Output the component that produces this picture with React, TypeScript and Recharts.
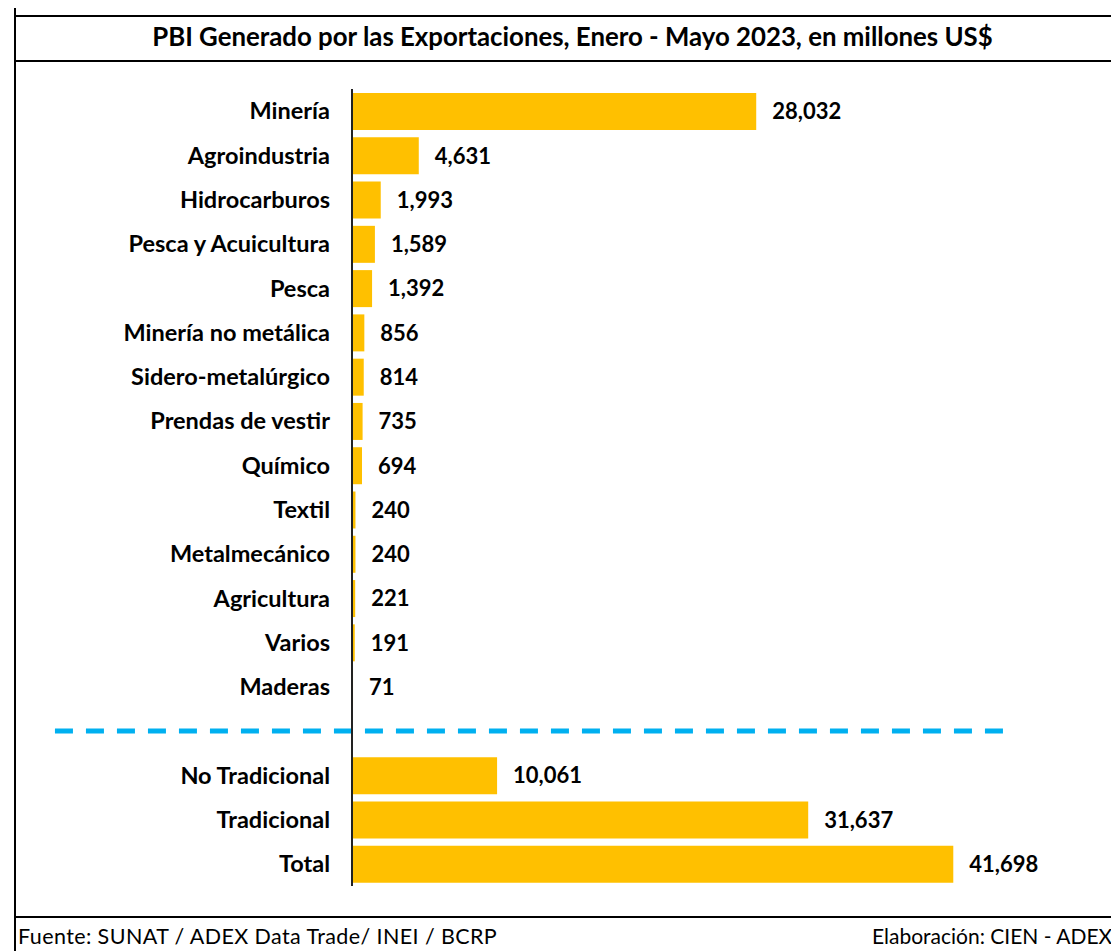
import React from 'react';
import { BarChart, Bar, XAxis, YAxis, LabelList, ReferenceLine } from 'recharts';

const sectors = [
  'Minería', 'Agroindustria', 'Hidrocarburos', 'Pesca y Acuicultura', 'Pesca',
  'Minería no metálica', 'Sidero-metalúrgico', 'Prendas de vestir', 'Químico',
  'Textil', 'Metalmecánico', 'Agricultura', 'Varios', 'Maderas',
];
const sectorValues = [28032, 4631, 1993, 1589, 1392, 856, 814, 735, 694, 240, 240, 221, 191, 71];

const groups = ['No Tradicional', 'Tradicional', 'Total'];
const groupValues = [10061, 31637, 41698];

const SEPARATOR = ' ';

const data = [
  ...sectors.map((name, i) => ({ name, value: sectorValues[i] })),
  { name: SEPARATOR, value: null },
  ...groups.map((name, i) => ({ name, value: groupValues[i] })),
];

const FONT = 'Lato, "Liberation Sans", sans-serif';
const fmt = (v: any) => (v == null ? '' : Number(v).toLocaleString('en-US'));

const App: React.FC = () => {
  return (
    <div style={{ position: 'relative', width: 1111, height: 943, overflow: 'hidden', fontFamily: FONT, background: '#fff' }}>
      {/* frame */}
      <div style={{ position: 'absolute', left: 6, top: 0, width: 2, height: 943, background: '#000' }} />
      <div style={{ position: 'absolute', left: 6, top: 7, width: 1105, height: 2, background: '#000' }} />
      <div style={{ position: 'absolute', left: 6, top: 52, width: 1105, height: 2, background: '#000' }} />
      <div style={{ position: 'absolute', left: 6, top: 908, width: 1105, height: 2, background: '#000' }} />

      <div style={{ position: 'absolute', left: 6, width: 1117, top: 12, textAlign: 'center', fontWeight: 700, fontSize: 25.8, lineHeight: '32px', color: '#000', whiteSpace: 'nowrap' }}>
        PBI Generado por las Exportaciones, Enero - Mayo 2023, en millones US$
      </div>

      <div style={{ position: 'absolute', left: 10, top: 914, fontSize: 21.5, lineHeight: '28px', color: '#000', whiteSpace: 'nowrap', letterSpacing: 0.4 }}>
        Fuente: SUNAT / ADEX Data Trade/ INEI / BCRP
      </div>
      <div style={{ position: 'absolute', left: 864, top: 914, fontSize: 21, lineHeight: '28px', color: '#000', whiteSpace: 'nowrap' }}>
        Elaboración: CIEN - ADEX
      </div>

      <div style={{ position: 'absolute', left: 0, top: 0 }}>
        <BarChart
          width={1111}
          height={943}
          data={data}
          layout="vertical"
          margin={{ top: 81, right: 46, bottom: 65, left: 44 }}
          barSize={37}
        >
          <XAxis type="number" domain={[0, 50000]} hide />
          <YAxis
            type="category"
            dataKey="name"
            width={300}
            axisLine={{ stroke: '#222', strokeWidth: 2 }}
            tickLine={false}
            tickSize={0}
            tickMargin={22}
            interval={0}
            tick={{ fill: '#000', fontSize: 23.5, fontWeight: 700, fontFamily: FONT }}
          />
          <ReferenceLine
            segment={[{ x: -20600, y: SEPARATOR }, { x: 45660, y: SEPARATOR }]}
            stroke="#00B0F0"
            strokeWidth={5}
            strokeDasharray="18 13"
            ifOverflow="visible"
          />
          <Bar dataKey="value" fill="#FFC000" isAnimationActive={false}>
            <LabelList
              dataKey="value"
              position="right"
              offset={16}
              formatter={fmt}
              style={{ fill: '#000', fontSize: 22, fontWeight: 700, fontFamily: FONT }}
            />
          </Bar>
        </BarChart>
      </div>
    </div>
  );
};

export default App;
